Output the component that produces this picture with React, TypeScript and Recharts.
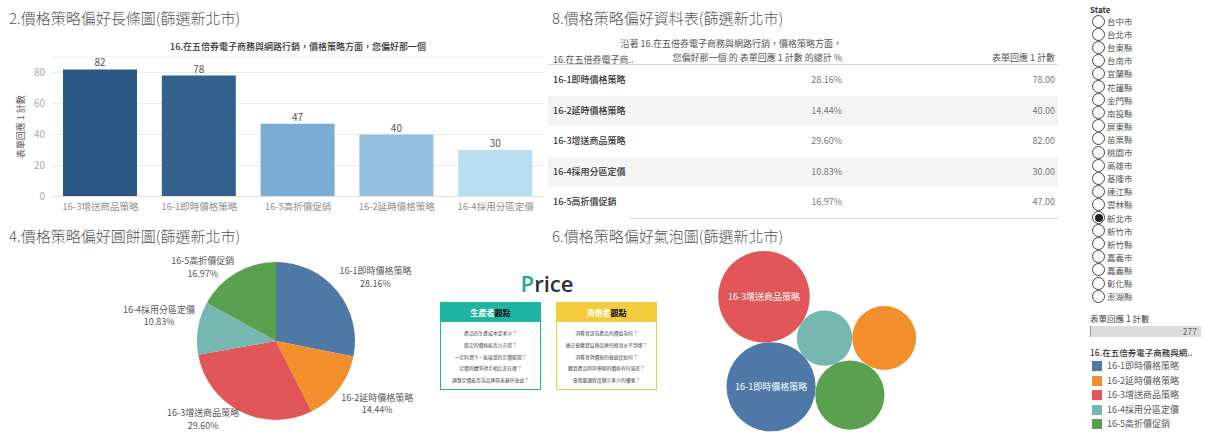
import React from "react";
import {
  Bar,
  BarChart,
  CartesianGrid,
  Cell,
  LabelList,
  Pie,
  PieChart,
  Scatter,
  ScatterChart,
  XAxis,
  YAxis,
  ZAxis,
} from "recharts";

// ---- data ----
const categories = [
  "16-1即時價格策略",
  "16-2延時價格策略",
  "16-3增送商品策略",
  "16-4採用分區定價",
  "16-5高折價促銷",
];
const counts = [78, 40, 82, 30, 47];
const yTicks = [0, 20, 40, 60, 80];
const question = "16.在五倍券電子商務與網路行銷，價格策略方面，您偏好那一個";
const states = [
  "台中市", "台北市", "台東縣", "台南市", "宜蘭縣", "花蓮縣", "金門縣", "南投縣",
  "屏東縣", "苗栗縣", "桃園市", "高雄市", "基隆市", "連江縣", "雲林縣", "新北市",
  "新竹市", "新竹縣", "嘉義市", "嘉義縣", "彰化縣", "澎湖縣",
];
const selectedState = "新北市";
const producerQuestions = [
  "產品的生產成本是多少？",
  "既定的價格能否占市場？",
  "一定利潤下，能接受的定價範圍？",
  "定價與競爭對手相比差在哪？",
  "調整定價能否為品牌帶來額外效益？",
];
const consumerQuestions = [
  "消費者認為產品的價值為何？",
  "過去會購買這類品牌的經濟水平到哪？",
  "消費者對價格的敏感度如何？",
  "購買產品時與預期的價格有何落差？",
  "會想要讓程度顯示多少的優惠？",
];

// ---- styles ----
const FONT = '"Noto Sans CJK TC", "Noto Sans", sans-serif';
const catColors = ["#4e79a7", "#f28e2b", "#e15759", "#76b7b2", "#59a14f"];
const RAD = Math.PI / 180;

const total = counts.reduce((a, b) => a + b, 0);
const pctText = (v: number) => ((v / total) * 100).toFixed(2) + "%";

const blueStops: [number, number[]][] = [
  [0, [185, 221, 241]],
  [0.33, [121, 173, 214]],
  [1, [42, 87, 131]],
];
function seqBlue(v: number) {
  const lo = Math.min(...counts);
  const hi = Math.max(...counts);
  const f = (v - lo) / (hi - lo);
  for (let i = 1; i < blueStops.length; i++) {
    const [f0, c0] = blueStops[i - 1];
    const [f1, c1] = blueStops[i];
    if (f <= f1) {
      const t = (f - f0) / (f1 - f0);
      const c = c0.map((x, k) => Math.round(x + (c1[k] - x) * t));
      return `rgb(${c[0]},${c[1]},${c[2]})`;
    }
  }
  return "rgb(42,87,131)";
}

const measureCtx =
  typeof document !== "undefined" ? document.createElement("canvas").getContext("2d") : null;
function textWidth(s: string, size: number) {
  if (!measureCtx) return s.length * size;
  measureCtx.font = `${size}px ${FONT}`;
  return measureCtx.measureText(s).width;
}

// ---- bar chart ----
const barData = categories
  .map((c, i) => ({ name: c, value: counts[i] }))
  .sort((a, b) => b.value - a.value);

function BarPanel() {
  return (
    <div style={{ position: "absolute", left: 0, top: 0 }}>
      <BarChart
        width={560}
        height={220}
        data={barData}
        margin={{ top: 57, right: 15, left: 11, bottom: 3.5 }}
      >
        <CartesianGrid vertical={false} stroke="#ececec" />
        <XAxis
          dataKey="name"
          interval={0}
          height={20}
          tickLine={false}
          axisLine={{ stroke: "#e4e4e4" }}
          tickSize={4}
          tickMargin={3}
          tick={{ fontSize: 9.5, fill: "#8f8f8f", fontFamily: FONT }}
        />
        <YAxis
          type="number"
          domain={[0, 90]}
          ticks={yTicks}
          width={40}
          axisLine={false}
          tickLine={false}
          tickSize={4}
          tickMargin={2}
          tick={{ fontSize: 10, fill: "#aaaaaa", fontFamily: FONT }}
          label={{
            value: "表單回應 1 計數",
            angle: -90,
            position: "center",
            dx: -10,
            style: { fontSize: 9, fill: "#555", fontFamily: FONT },
          }}
        />
        <Bar dataKey="value" barSize={74} isAnimationActive={false}>
          {barData.map((d) => (
            <Cell key={d.name} fill={seqBlue(d.value)} />
          ))}
          <LabelList
            dataKey="value"
            position="top"
            offset={3}
            style={{ fontSize: 10, fill: "#555", fontFamily: FONT }}
          />
        </Bar>
      </BarChart>
    </div>
  );
}

// ---- pie chart ----
const pieData = categories.map((c, i) => ({ name: c, value: counts[i] }));
const PIE_H = 179;

function renderPieLabel(props: any) {
  const { cx, cy, midAngle, outerRadius, index } = props;
  const name = categories[index];
  const pct = pctText(counts[index]);
  const cos = Math.cos(midAngle * RAD);
  const sin = Math.sin(midAngle * RAD);
  const ax = cx + (outerRadius + 3) * cos;
  const ay = cy - (outerRadius + 3) * sin;
  const w = Math.max(textWidth(name, 9), textWidth(pct, 9));
  const h = 25;
  const x = ax + (cos >= 0 ? w / 2 : -w / 2);
  let y = ay + (sin >= 0 ? -h / 2 : h / 2);
  y = Math.min(Math.max(y, h / 2 + 1), PIE_H - h / 2 - 1);
  const st = { fontSize: 9, fill: "#555", fontFamily: FONT };
  return (
    <g key={name}>
      <text x={x} y={y - 6} textAnchor="middle" dominantBaseline="central" style={st}>
        {name}
      </text>
      <text x={x} y={y + 6.5} textAnchor="middle" dominantBaseline="central" style={st}>
        {pct}
      </text>
    </g>
  );
}

function PiePanel() {
  return (
    <div style={{ position: "absolute", left: 0, top: 253 }}>
      <PieChart width={440} height={PIE_H} margin={{ top: 0, right: 0, bottom: 0, left: 0 }}>
        <Pie
          data={pieData}
          dataKey="value"
          nameKey="name"
          cx={276}
          cy={88}
          outerRadius={79}
          startAngle={90}
          endAngle={-270}
          stroke="none"
          labelLine={false}
          label={renderPieLabel}
          isAnimationActive={false}
        >
          {pieData.map((d, i) => (
            <Cell key={d.name} fill={catColors[i]} />
          ))}
        </Pie>
      </PieChart>
    </div>
  );
}

// ---- packed bubbles ----
const K = 5.05;
const BW = 400;
const BH = 182;
const bubbleOrder = [2, 0, 3, 4, 1];
type Circle = { x: number; y: number; r: number };

function tangent(a: Circle, b: Circle, r: number) {
  const dx = b.x - a.x;
  const dy = b.y - a.y;
  const d = Math.hypot(dx, dy);
  const da = a.r + r;
  const db = b.r + r;
  const along = (da * da - db * db + d * d) / (2 * d);
  const h = Math.sqrt(Math.max(da * da - along * along, 0));
  const ux = dx / d;
  const uy = dy / d;
  const bx = a.x + along * ux;
  const by = a.y + along * uy;
  return [
    { x: bx - h * uy, y: by + h * ux, r },
    { x: bx + h * uy, y: by - h * ux, r },
  ];
}

function packBubbles() {
  const rs = bubbleOrder.map((i) => K * Math.sqrt(counts[i]));
  const c0: Circle = { x: 84, y: 46.7, r: rs[0] };
  const ang = 85.5 * RAD;
  const c1: Circle = {
    x: c0.x + (rs[0] + rs[1]) * Math.cos(ang),
    y: c0.y + (rs[0] + rs[1]) * Math.sin(ang),
    r: rs[1],
  };
  const c2 = tangent(c0, c1, rs[2]).sort((a, b) => b.x - a.x)[0];
  const c3 = tangent(c1, c2, rs[3]).sort((a, b) => b.y - a.y)[0];
  const c4 = tangent(c2, c3, rs[4]).sort((a, b) => b.x - a.x)[0];
  return [c0, c1, c2, c3, c4].map((c, k) => ({
    name: categories[bubbleOrder[k]],
    value: counts[bubbleOrder[k]],
    x: c.x,
    y: c.y,
  }));
}
const bubbleData = packBubbles();

function Bubble(props: any) {
  const { cx, cy, width, size, payload } = props;
  const r = width ? width / 2 : Math.sqrt(size / Math.PI);
  const i = categories.indexOf(payload.name);
  const fits = textWidth(payload.name, 9) + 10 < 2 * r;
  return (
    <g>
      <circle cx={cx} cy={cy} r={r} fill={catColors[i]} />
      {fits && (
        <text
          x={cx}
          y={cy}
          textAnchor="middle"
          dominantBaseline="central"
          style={{ fontSize: 9, fill: "#fff", fontFamily: FONT }}
        >
          {payload.name}
        </text>
      )}
    </g>
  );
}

function BubblePanel() {
  return (
    <div style={{ position: "absolute", left: 680, top: 250 }}>
      <ScatterChart width={BW} height={BH} margin={{ top: 0, right: 0, bottom: 0, left: 0 }}>
        <XAxis type="number" dataKey="x" domain={[0, BW]} hide />
        <YAxis type="number" dataKey="y" domain={[0, BH]} reversed hide />
        <ZAxis
          type="number"
          dataKey="value"
          domain={[0, Math.max(...counts)]}
          range={[0, Math.PI * K * K * Math.max(...counts)]}
        />
        <Scatter data={bubbleData} shape={<Bubble />} isAnimationActive={false} />
      </ScatterChart>
    </div>
  );
}

// ---- table ----
function TablePanel() {
  const rowTop = 65;
  const rowH = 30.5;
  return (
    <>
      {categories.map((c, i) =>
        i % 2 === 1 ? (
          <div
            key={"band" + c}
            style={{
              position: "absolute",
              left: 548,
              top: rowTop + i * rowH,
              width: 510,
              height: rowH,
              background: "#f4f4f4",
            }}
          />
        ) : null
      )}
      <div style={{ position: "absolute", left: 548, top: 64, width: 510, height: 1, background: "#d6d6d6" }} />
      <div style={{ position: "absolute", left: 630, top: rowTop + 5 * rowH, width: 428, height: 1, background: "#d6d6d6" }} />
      <div style={{ position: "absolute", left: 553, top: 53, fontSize: 9, color: "#555", lineHeight: "14px" }}>
        16.在五倍券電子商..
      </div>
      <div
        style={{
          position: "absolute",
          right: 1205 - 842,
          top: 37,
          fontSize: 9,
          color: "#555",
          lineHeight: "14px",
          textAlign: "right",
          whiteSpace: "nowrap",
        }}
      >
        沿著 16.在五倍券電子商務與網路行銷，價格策略方面，
        <br />
        您偏好那一個 的 表單回應 1 計數 的總計 %
      </div>
      <div
        style={{ position: "absolute", right: 1205 - 1055, top: 51, fontSize: 9, color: "#555", lineHeight: "14px" }}
      >
        表單回應 1 計數
      </div>
      {categories.map((c, i) => {
        const top = rowTop + i * rowH;
        const rowStyle = { position: "absolute" as const, top, height: rowH, lineHeight: rowH + "px", fontSize: 9 };
        return (
          <React.Fragment key={c}>
            <div style={{ ...rowStyle, left: 553, color: "#333", fontWeight: 500 }}>{c}</div>
            <div style={{ ...rowStyle, right: 1205 - 842, color: "#777" }}>{pctText(counts[i])}</div>
            <div style={{ ...rowStyle, right: 1205 - 1055, color: "#777" }}>{counts[i].toFixed(2)}</div>
          </React.Fragment>
        );
      })}
    </>
  );
}

// ---- price picture ----
function PriceBox({ left, color, who, lines }: { left: number; color: string; who: string; lines: string[] }) {
  return (
    <div
      style={{
        position: "absolute",
        left,
        top: 302,
        width: 99,
        height: 86,
        border: `1px solid ${color}`,
        background: "#fff",
      }}
    >
      <div
        style={{
          height: 19,
          background: color,
          textAlign: "center",
          lineHeight: "19px",
          fontSize: 8,
          fontWeight: 700,
          color: "#fff",
        }}
      >
        {who}
        <span style={{ color: "#111" }}>觀點</span>
      </div>
      <div style={{ paddingTop: 5 }}>
        {lines.map((l) => (
          <div key={l} style={{ textAlign: "center", fontSize: 4.8, lineHeight: "11.8px", color: "#444" }}>
            {l}
          </div>
        ))}
      </div>
    </div>
  );
}

function PricePanel() {
  return (
    <>
      <div
        style={{
          position: "absolute",
          left: 430,
          width: 234,
          top: 270,
          textAlign: "center",
          fontSize: 22,
          lineHeight: "26px",
          fontWeight: 600,
          color: "#26323a",
          fontFamily: '"Open Sans", "Noto Sans", sans-serif',
        }}
      >
        <span style={{ color: "#1ba99a" }}>P</span>rice
      </div>
      <PriceBox left={440} color="#1fb3a1" who="生產者" lines={producerQuestions} />
      <PriceBox left={556} color="#f4cb3b" who="消費者" lines={consumerQuestions} />
    </>
  );
}

// ---- filter + legend ----
function SidePanel() {
  const step = 13.1;
  return (
    <>
      <div style={{ position: "absolute", left: 1090, top: 3, fontSize: 8, fontWeight: 600, color: "#333", lineHeight: "14px" }}>
        State
      </div>
      {states.map((s, i) => {
        const cy = 21 + i * step;
        return (
          <React.Fragment key={s}>
            <div
              style={{
                position: "absolute",
                left: 1092,
                top: cy - 6.5,
                width: 11,
                height: 11,
                borderRadius: "50%",
                border: "1px solid #444",
                background: "#fff",
              }}
            >
              {s === selectedState && (
                <div
                  style={{
                    position: "absolute",
                    left: 1.5,
                    top: 1.5,
                    width: 8,
                    height: 8,
                    borderRadius: "50%",
                    background: "#222",
                  }}
                />
              )}
            </div>
            <div style={{ position: "absolute", left: 1107, top: cy - 7, fontSize: 8.5, lineHeight: "14px", color: "#555" }}>
              {s}
            </div>
          </React.Fragment>
        );
      })}
      <div style={{ position: "absolute", left: 1090, top: 311, fontSize: 8.5, lineHeight: "14px", color: "#444" }}>
        表單回應 1 計數
      </div>
      <div
        style={{
          position: "absolute",
          left: 1090,
          top: 326,
          width: 110,
          height: 11,
          background: "#dcdcdc",
          borderLeft: "1px solid #999",
        }}
      />
      <div style={{ position: "absolute", right: 1205 - 1197, top: 324, fontSize: 8.5, lineHeight: "14px", color: "#666" }}>
        {total}
      </div>
      <div style={{ position: "absolute", left: 1090, top: 345, fontSize: 8.5, fontWeight: 500, lineHeight: "14px", color: "#333" }}>
        16.在五倍券電子商務與網..
      </div>
      {categories.map((c, i) => {
        const cy = 366 + i * 14.5;
        return (
          <React.Fragment key={c}>
            <div style={{ position: "absolute", left: 1092, top: cy - 5, width: 10, height: 10, background: catColors[i] }} />
            <div style={{ position: "absolute", left: 1107, top: cy - 7, fontSize: 9, lineHeight: "14px", color: "#555" }}>
              {c}
            </div>
          </React.Fragment>
        );
      })}
    </>
  );
}

const titleStyle = {
  position: "absolute" as const,
  fontSize: 15,
  color: "#555",
  fontWeight: 300,
  lineHeight: "20px",
  whiteSpace: "nowrap" as const,
};

export default function App() {
  return (
    <div
      style={{
        position: "absolute",
        left: 0,
        top: 0,
        width: 1205,
        height: 432,
        background: "#fff",
        overflow: "hidden",
        fontFamily: FONT,
      }}
    >
      <div style={{ ...titleStyle, left: 9, top: 8 }}>2.價格策略偏好長條圖(篩選新北市)</div>
      <div style={{ ...titleStyle, left: 552, top: 8 }}>8.價格策略偏好資料表(篩選新北市)</div>
      <div style={{ ...titleStyle, left: 9, top: 226 }}>4.價格策略偏好圓餅圖(篩選新北市)</div>
      <div style={{ ...titleStyle, left: 552, top: 226 }}>6.價格策略偏好氣泡圖(篩選新北市)</div>
      <div
        style={{
          position: "absolute",
          left: 51,
          width: 494,
          top: 40,
          textAlign: "center",
          fontSize: 9,
          fontWeight: 500,
          color: "#333",
          lineHeight: "13px",
        }}
      >
        {question}
      </div>
      <BarPanel />
      <TablePanel />
      <PiePanel />
      <PricePanel />
      <BubblePanel />
      <SidePanel />
    </div>
  );
}
